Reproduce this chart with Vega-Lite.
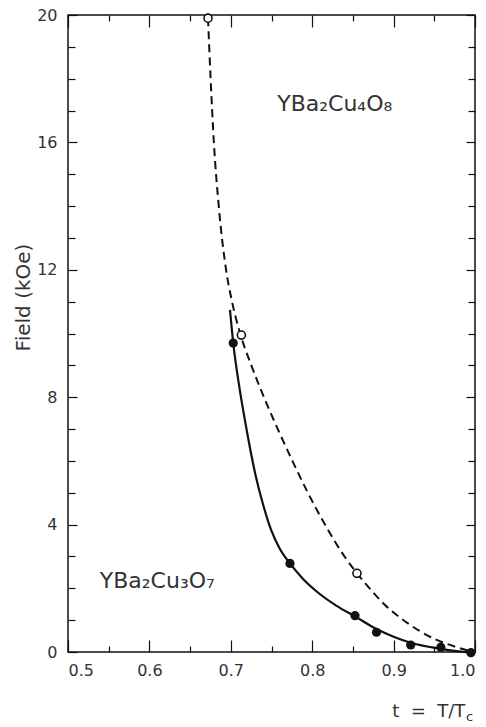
{
  "$schema": "https://vega.github.io/schema/vega-lite/v6.json",
  "width": 407,
  "height": 637,
  "autosize": {"type": "none"},
  "padding": {"left": 68, "top": 15, "right": 11, "bottom": 75},
  "background": "white",
  "config": {
    "view": {"stroke": "#111", "strokeWidth": 1.5},
    "axis": {"domain": false, "grid": false, "tickColor": "#111", "tickWidth": 1.2, "labelFont": "DejaVu Sans", "labelFontSize": 16, "labelColor": "#333", "titleFont": "DejaVu Sans", "titleFontWeight": "normal", "titleFontSize": 20, "titleColor": "#333"}
  },
  "datasets": {
    "curves": [
      {"t": 0.672, "field": 19.9, "series": "YBa2Cu4O8"},
      {"t": 0.6752, "field": 18.0, "series": "YBa2Cu4O8"},
      {"t": 0.6792, "field": 16.0, "series": "YBa2Cu4O8"},
      {"t": 0.6852, "field": 14.0, "series": "YBa2Cu4O8"},
      {"t": 0.6942, "field": 12.0, "series": "YBa2Cu4O8"},
      {"t": 0.7015, "field": 11.0, "series": "YBa2Cu4O8"},
      {"t": 0.7115, "field": 10.0, "series": "YBa2Cu4O8"},
      {"t": 0.7252, "field": 9.0, "series": "YBa2Cu4O8"},
      {"t": 0.7407, "field": 8.0, "series": "YBa2Cu4O8"},
      {"t": 0.7577, "field": 7.0, "series": "YBa2Cu4O8"},
      {"t": 0.7757, "field": 6.0, "series": "YBa2Cu4O8"},
      {"t": 0.7947, "field": 5.0, "series": "YBa2Cu4O8"},
      {"t": 0.8157, "field": 4.0, "series": "YBa2Cu4O8"},
      {"t": 0.8397, "field": 3.0, "series": "YBa2Cu4O8"},
      {"t": 0.855, "field": 2.47, "series": "YBa2Cu4O8"},
      {"t": 0.8705, "field": 2.0, "series": "YBa2Cu4O8"},
      {"t": 0.8885, "field": 1.5, "series": "YBa2Cu4O8"},
      {"t": 0.9095, "field": 1.05, "series": "YBa2Cu4O8"},
      {"t": 0.932, "field": 0.66, "series": "YBa2Cu4O8"},
      {"t": 0.953, "field": 0.38, "series": "YBa2Cu4O8"},
      {"t": 0.9775, "field": 0.15, "series": "YBa2Cu4O8"},
      {"t": 0.997, "field": 0.0, "series": "YBa2Cu4O8"},
      {"t": 0.699, "field": 10.74, "series": "YBa2Cu3O7"},
      {"t": 0.703, "field": 9.7, "series": "YBa2Cu3O7"},
      {"t": 0.71, "field": 8.4, "series": "YBa2Cu3O7"},
      {"t": 0.72, "field": 6.9, "series": "YBa2Cu3O7"},
      {"t": 0.73, "field": 5.6, "series": "YBa2Cu3O7"},
      {"t": 0.74, "field": 4.6, "series": "YBa2Cu3O7"},
      {"t": 0.75, "field": 3.8, "series": "YBa2Cu3O7"},
      {"t": 0.76, "field": 3.25, "series": "YBa2Cu3O7"},
      {"t": 0.7727, "field": 2.78, "series": "YBa2Cu3O7"},
      {"t": 0.7885, "field": 2.3, "series": "YBa2Cu3O7"},
      {"t": 0.8055, "field": 1.9, "series": "YBa2Cu3O7"},
      {"t": 0.83, "field": 1.45, "series": "YBa2Cu3O7"},
      {"t": 0.8526, "field": 1.12, "series": "YBa2Cu3O7"},
      {"t": 0.879, "field": 0.72, "series": "YBa2Cu3O7"},
      {"t": 0.90, "field": 0.48, "series": "YBa2Cu3O7"},
      {"t": 0.921, "field": 0.29, "series": "YBa2Cu3O7"},
      {"t": 0.958, "field": 0.1, "series": "YBa2Cu3O7"},
      {"t": 0.998, "field": -0.03, "series": "YBa2Cu3O7"}
    ],
    "points": [
      {"t": 0.672, "field": 19.9, "series": "YBa2Cu4O8"},
      {"t": 0.713, "field": 9.95, "series": "YBa2Cu4O8"},
      {"t": 0.855, "field": 2.47, "series": "YBa2Cu4O8"},
      {"t": 0.703, "field": 9.7, "series": "YBa2Cu3O7"},
      {"t": 0.7727, "field": 2.78, "series": "YBa2Cu3O7"},
      {"t": 0.8526, "field": 1.14, "series": "YBa2Cu3O7"},
      {"t": 0.879, "field": 0.62, "series": "YBa2Cu3O7"},
      {"t": 0.921, "field": 0.22, "series": "YBa2Cu3O7"},
      {"t": 0.958, "field": 0.15, "series": "YBa2Cu3O7"},
      {"t": 0.995, "field": -0.02, "series": "YBa2Cu3O7"}
    ],
    "labels": [
      {"t": 0.757, "field": 17.0, "text": "YBa₂Cu₄O₈", "kind": "chem"},
      {"t": 0.539, "field": 2.0, "text": "YBa₂Cu₃O₇", "kind": "chem"},
      {"t": 0.988, "field": -2.03, "text": "t\u00a0\u00a0=\u00a0\u00a0T/T", "kind": "title"},
      {"t": 0.989, "field": -2.18, "text": "c", "kind": "sub"}
    ]
  },
  "resolve": {"axis": {"x": "independent", "y": "independent"}},
  "layer": [
    {
      "data": {"name": "curves"},
      "transform": [{"filter": "datum.series === 'YBa2Cu4O8'"}],
      "mark": {"type": "line", "interpolate": "monotone", "color": "#111", "strokeWidth": 2, "strokeDash": [8, 5]},
      "encoding": {
        "x": {"field": "t", "type": "quantitative", "scale": {"domain": [0.5, 1.0], "nice": false, "zero": false},
              "axis": {"orient": "bottom", "values": [0.5, 0.6, 0.7, 0.8, 0.9, 1.0], "format": ".1f", "tickSize": -12, "labelPadding": 22, "title": null}},
        "y": {"field": "field", "type": "quantitative", "scale": {"domain": [0, 20], "nice": false},
              "axis": {"orient": "left", "values": [0, 4, 8, 12, 16, 20], "tickSize": -9, "labelPadding": 20, "title": "Field (kOe)", "titleX": -45, "titleY": 282, "titleAngle": -90, "titleAlign": "center", "titleBaseline": "middle"}}
      }
    },
    {
      "data": {"name": "curves"},
      "transform": [{"filter": "datum.series === 'YBa2Cu3O7'"}],
      "mark": {"type": "line", "interpolate": "monotone", "color": "#111", "strokeWidth": 2.2},
      "encoding": {
        "x": {"field": "t", "type": "quantitative", "axis": {"orient": "bottom", "values": [0.55, 0.65, 0.75, 0.85, 0.95], "tickSize": -6, "labels": false, "title": null}},
        "y": {"field": "field", "type": "quantitative", "axis": {"orient": "left", "values": [1, 2, 3, 5, 6, 7, 9, 10, 11, 13, 14, 15, 17, 18, 19], "tickSize": -7, "labels": false, "title": null}}
      }
    },
    {
      "data": {"name": "points"},
      "transform": [{"filter": "datum.series === 'YBa2Cu4O8'"}],
      "mark": {"type": "point", "shape": "circle", "size": 65, "filled": false, "stroke": "#111", "strokeWidth": 1.6, "fill": "white", "opacity": 1},
      "encoding": {
        "x": {"field": "t", "type": "quantitative", "axis": {"orient": "top", "values": [0.5, 0.6, 0.7, 0.8, 0.9, 1.0], "tickSize": -12, "labels": false, "title": null}},
        "y": {"field": "field", "type": "quantitative", "axis": {"orient": "right", "values": [0, 4, 8, 12, 16, 20], "tickSize": -9, "labels": false, "title": null}}
      }
    },
    {
      "data": {"name": "points"},
      "transform": [{"filter": "datum.series === 'YBa2Cu3O7'"}],
      "mark": {"type": "circle", "size": 85, "color": "#111", "opacity": 1},
      "encoding": {
        "x": {"field": "t", "type": "quantitative", "axis": {"orient": "top", "values": [0.55, 0.65, 0.75, 0.85, 0.95], "tickSize": -6, "labels": false, "title": null}},
        "y": {"field": "field", "type": "quantitative", "axis": {"orient": "right", "values": [1, 2, 3, 5, 6, 7, 9, 10, 11, 13, 14, 15, 17, 18, 19], "tickSize": -7, "labels": false, "title": null}}
      }
    },
    {
      "data": {"name": "labels"},
      "transform": [{"filter": "datum.kind === 'chem'"}],
      "mark": {"type": "text", "font": "DejaVu Sans", "fontSize": 22, "color": "#333", "align": "left", "baseline": "alphabetic"},
      "encoding": {
        "x": {"field": "t", "type": "quantitative", "axis": null},
        "y": {"field": "field", "type": "quantitative", "axis": null},
        "text": {"field": "text"}
      }
    },
    {
      "data": {"name": "labels"},
      "transform": [{"filter": "datum.kind === 'title'"}],
      "mark": {"type": "text", "font": "DejaVu Sans", "fontSize": 18, "color": "#333", "align": "right", "baseline": "alphabetic"},
      "encoding": {
        "x": {"field": "t", "type": "quantitative", "axis": null},
        "y": {"field": "field", "type": "quantitative", "axis": null},
        "text": {"field": "text"}
      }
    },
    {
      "data": {"name": "labels"},
      "transform": [{"filter": "datum.kind === 'sub'"}],
      "mark": {"type": "text", "font": "DejaVu Sans", "fontSize": 13, "color": "#333", "align": "left", "baseline": "alphabetic"},
      "encoding": {
        "x": {"field": "t", "type": "quantitative", "axis": null},
        "y": {"field": "field", "type": "quantitative", "axis": null},
        "text": {"field": "text"}
      }
    }
  ]
}
